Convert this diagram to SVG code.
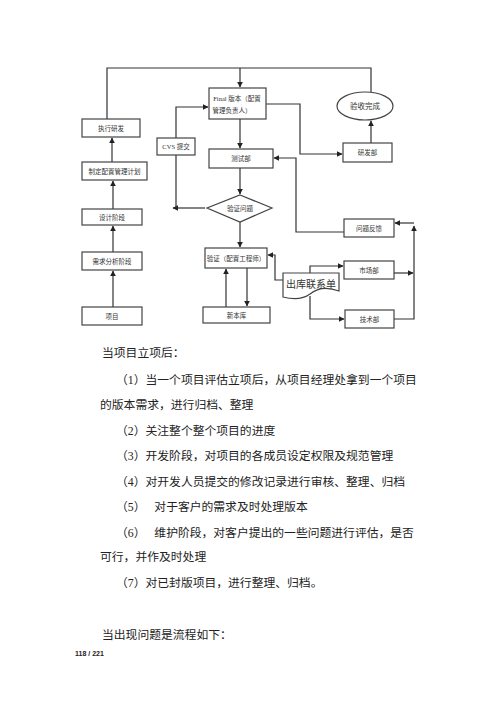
<svg xmlns="http://www.w3.org/2000/svg" width="500" height="707" viewBox="0 0 500 707">
<defs>
<marker id="ah" viewBox="0 0 10 10" refX="9" refY="5" markerWidth="5" markerHeight="5" orient="auto-start-reverse">
<path d="M0,0 L10,5 L0,10 Z" fill="#222"/>
</marker>
<style>
.box{fill:#fff;stroke:#444;stroke-width:1.2}
.lbl{font-family:"Liberation Serif","Noto Sans CJK SC",serif;font-size:6.5px;fill:#333;text-anchor:middle;dominant-baseline:central}
.ln{fill:none;stroke:#333;stroke-width:1.2}
.arr{marker-end:url(#ah)}
.body{font-family:"Liberation Serif","Noto Sans CJK SC",serif;font-size:11.8px;fill:#222}
</style>
</defs>
<rect width="500" height="707" fill="#fff"/>

<g id="connectors">
<path class="ln arr" d="M113,307 V271"/>
<path class="ln arr" d="M113,252 V226"/>
<path class="ln arr" d="M113,209 V181"/>
<path class="ln arr" d="M112,162 V138"/>
<path class="ln" d="M107,119 V68 H371 V92"/>
<path class="ln arr" d="M240,68 V87"/>
<path class="ln arr" d="M205,208 H173"/>
<path class="ln arr" d="M176,208 V107 H208"/>
<path class="ln arr" d="M240,119 V148"/>
<path class="ln arr" d="M266,104 H300 V154 H342"/>
<path class="ln arr" d="M371,143 V121"/>
<path class="ln arr" d="M240,168 V194"/>
<path class="ln arr" d="M240,222 V247"/>
<path class="ln arr" d="M344,232 H296 V158 H274"/>
<path class="ln arr" d="M226,307 V269"/>
<path class="ln arr" d="M247,268 V306"/>
<path class="ln arr" d="M283,280 H275 V255 H268"/>
<path class="ln arr" d="M310,274 V266 H343"/>
<path class="ln arr" d="M310,296 V319 H344"/>
<path class="ln arr" d="M394,273 H413"/>
<path class="ln arr" d="M394,319 H414 V226"/>
<path class="ln arr" d="M414,223 H395"/>
</g>

<g id="n-zhixing"><rect class="box" x="82" y="119" width="58" height="18"/><text class="lbl" x="111" y="128">执行研发</text></g>
<g id="n-zhiding"><rect class="box" x="82" y="162" width="65" height="18"/><text class="lbl" x="114.5" y="171">制定配置管理计划</text></g>
<g id="n-sheji"><rect class="box" x="82" y="209" width="60" height="16"/><text class="lbl" x="112" y="217">设计阶段</text></g>
<g id="n-xuqiu"><rect class="box" x="82" y="252" width="60" height="18"/><text class="lbl" x="112" y="261">需求分析阶段</text></g>
<g id="n-xiangmu"><rect class="box" x="82" y="307" width="60" height="18"/><text class="lbl" x="112" y="316">项目</text></g>

<g id="n-cvs"><rect class="box" x="157" y="138" width="38" height="17"/><text class="lbl" x="176" y="146.5">CVS 提交</text></g>
<g id="n-final"><rect class="box" x="209" y="88" width="57" height="31"/><text class="lbl" x="237" y="98">Final 版本（配置</text><text class="lbl" x="232" y="110">管理负责人）</text></g>
<g id="n-ceshi"><rect class="box" x="209" y="149" width="64" height="19"/><text class="lbl" x="241" y="158.5">测试部</text></g>
<g id="n-yanzhengwenti"><path class="box" d="M240,195 L272,208 L240,222 L207,208 Z"/><text class="lbl" x="240" y="208.5">验证问题</text></g>
<g id="n-yanzheng"><rect class="box" x="205" y="248" width="62" height="20"/><text class="lbl" x="236" y="258">验证（配置工程师）</text></g>
<g id="n-xinbenku"><rect class="box" x="203" y="307" width="67" height="16"/><text class="lbl" x="236.5" y="315">新本库</text></g>

<g id="n-yanshou"><ellipse class="box" cx="365" cy="106" rx="28" ry="14"/><text class="lbl" x="365" y="106" style="font-size:7.5px">验收完成</text></g>
<g id="n-yanfa"><rect class="box" x="343" y="143" width="49" height="19"/><text class="lbl" x="367.5" y="152.5">研发部</text></g>
<g id="n-wenti"><rect class="box" x="344" y="219" width="50" height="18"/><text class="lbl" x="369" y="228">问题反馈</text></g>
<g id="n-shichang"><rect class="box" x="344" y="261" width="50" height="18"/><text class="lbl" x="369" y="270">市场部</text></g>
<g id="n-jishu"><rect class="box" x="345" y="310" width="49" height="18"/><text class="lbl" x="369.5" y="319">技术部</text></g>
<g id="n-chuku"><path class="box" d="M283,273 H339 V291 C326,286 316,289 310,294 C302,300 291,299 283,297 Z"/><text class="lbl" x="311" y="284" style="font-size:10px">出库联系单</text></g>

<g id="text">
<text class="body" x="102" y="357">当项目立项后：</text>
<text class="body" x="116" y="384">（1）当一个项目评估立项后，从项目经理处拿到一个项目</text>
<text class="body" x="100" y="409">的版本需求，进行归档、整理</text>
<text class="body" x="116" y="435">（2）关注整个整个项目的进度</text>
<text class="body" x="116" y="460">（3）开发阶段，对项目的各成员设定权限及规范管理</text>
<text class="body" x="116" y="486">（4）对开发人员提交的修改记录进行审核、整理、归档</text>
<text class="body" x="116" y="511" xml:space="preserve">（5）   对于客户的需求及时处理版本</text>
<text class="body" x="116" y="537" xml:space="preserve">（6）   维护阶段，对客户提出的一些问题进行评估，是否</text>
<text class="body" x="100" y="561">可行，并作及时处理</text>
<text class="body" x="116" y="587">（7）对已封版项目，进行整理、归档。</text>
<text class="body" x="102" y="639">当出现问题是流程如下：</text>
<text x="75" y="656" style="font-family:'Liberation Sans',sans-serif;font-size:7px;font-weight:bold;fill:#222">118 / 221</text>
</g>
</svg>
